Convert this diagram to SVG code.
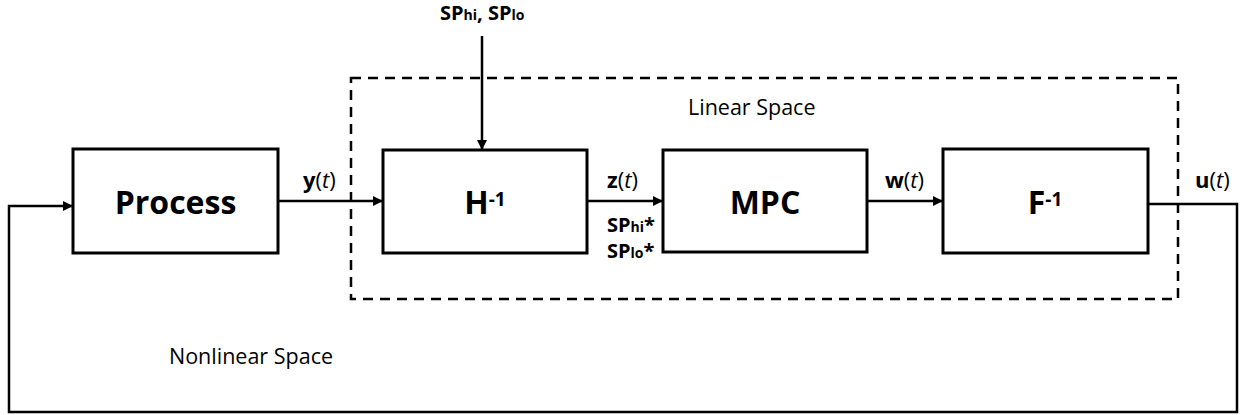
<svg xmlns="http://www.w3.org/2000/svg" width="1244" height="415" viewBox="0 0 1244 415">
  <defs>
    <marker id="arrow" viewBox="0 0 10 10" refX="10" refY="5" markerWidth="10" markerHeight="10" markerUnits="userSpaceOnUse" orient="auto">
      <path d="M0,0 L10,5 L0,10 Z" fill="#000"/>
    </marker>
    <style>
      .box { fill: #fff; stroke: #000; stroke-width: 3; }
      .wire { fill: none; stroke: #000; stroke-width: 2.5; }
      .zone { fill: none; stroke: #000; stroke-width: 2.5; stroke-dasharray: 10 7; }
      .title { font-family: "Open Sans", "Liberation Sans", sans-serif; font-weight: bold; font-size: 32px; text-anchor: middle; fill: #000; }
      .sig { font-family: "Open Sans", "Liberation Sans", sans-serif; font-size: 22px; fill: #000; }
      .sp { font-family: "Open Sans", "Liberation Sans", sans-serif; font-size: 20px; font-weight: bold; fill: #000; }
      .sub { font-size: 14px; }
      .sup { font-size: 19px; }
      .b { font-weight: bold; }
      .i { font-style: italic; }
      .note { font-family: "Open Sans", "Liberation Sans", sans-serif; font-size: 21.5px; fill: #000; }
    </style>
  </defs>

  <!-- linear-space boundary -->
  <g id="linear-space">
    <rect class="zone" x="351" y="78" width="827" height="221"/>
    <text class="note" x="688" y="115">Linear Space</text>
  </g>
  <g id="nonlinear-space">
    <text class="note" x="169" y="364">Nonlinear Space</text>
  </g>

  <!-- connectors -->
  <g id="connectors">
    <line class="wire" x1="278" y1="201" x2="383" y2="201" marker-end="url(#arrow)"/>
    <line class="wire" x1="482" y1="36" x2="482" y2="150" marker-end="url(#arrow)"/>
    <line class="wire" x1="587" y1="201" x2="663" y2="201" marker-end="url(#arrow)"/>
    <line class="wire" x1="867" y1="201" x2="943" y2="201" marker-end="url(#arrow)"/>
    <polyline class="wire" points="1148,204 1237,204 1237,412 9,412 9,206 73,206" marker-end="url(#arrow)"/>

    <text class="sig" x="303" y="188"><tspan class="b">y</tspan>(<tspan class="i">t</tspan>)</text>
    <text class="sig" x="607" y="188"><tspan class="b">z</tspan>(<tspan class="i">t</tspan>)</text>
    <text class="sp" x="607" y="232">SP<tspan class="sub">hi</tspan>*</text>
    <text class="sp" x="607" y="258">SP<tspan class="sub">lo</tspan>*</text>
    <text class="sig" x="885" y="188"><tspan class="b">w</tspan>(<tspan class="i">t</tspan>)</text>
    <text class="sig" x="1195" y="188"><tspan class="b">u</tspan>(<tspan class="i">t</tspan>)</text>
    <text class="sp" x="440" y="20">SP<tspan class="sub">hi</tspan>, SP<tspan class="sub">lo</tspan></text>
  </g>

  <!-- blocks -->
  <g id="process">
    <rect class="box" x="73" y="149" width="205" height="104"/>
    <text class="title" x="175.5" y="214">Process</text>
  </g>
  <g id="h-inverse">
    <rect class="box" x="383" y="150" width="204" height="103"/>
    <text class="title" x="485" y="214">H<tspan class="sup" dy="-8">-1</tspan></text>
  </g>
  <g id="mpc">
    <rect class="box" x="663" y="150" width="204" height="102"/>
    <text class="title" x="765" y="214">MPC</text>
  </g>
  <g id="f-inverse">
    <rect class="box" x="943" y="149" width="205" height="104"/>
    <text class="title" x="1045" y="214">F<tspan class="sup" dy="-8">-1</tspan></text>
  </g>
</svg>
